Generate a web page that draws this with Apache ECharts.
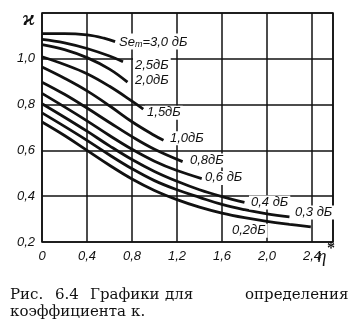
<!DOCTYPE html>
<html><head><meta charset="utf-8">
<script src="https://cdn.jsdelivr.net/npm/echarts@6/dist/echarts.min.js"></script>
<style>html,body{margin:0;padding:0;background:#fff}#c{width:357px;height:323px}</style>
</head><body><div id="c"></div>
<script>
// Curves: [eta*, kappa]
const c30 = [[0,1.11],[0.2,1.11],[0.4,1.104],[0.55,1.09],[0.65,1.075]];
const c25 = [[0,1.085],[0.2,1.07],[0.4,1.045],[0.6,1.012],[0.72,0.987]];
const c20 = [[0,1.062],[0.2,1.04],[0.4,1.005],[0.6,0.955],[0.76,0.898]];
const c15 = [[0,1.009],[0.2,0.975],[0.4,0.935],[0.6,0.88],[0.8,0.815],[0.9,0.78]];
const c10 = [[0,0.964],[0.2,0.915],[0.4,0.86],[0.6,0.795],[0.8,0.725],[1.0,0.665],[1.08,0.644]];
const c08 = [[0,0.898],[0.2,0.845],[0.4,0.785],[0.6,0.722],[0.8,0.66],[1.0,0.605],[1.25,0.551]];
const c06 = [[0,0.849],[0.2,0.79],[0.4,0.729],[0.6,0.665],[0.8,0.605],[1.0,0.553],[1.2,0.512],[1.42,0.477]];
const c04 = [[0,0.804],[0.2,0.745],[0.4,0.684],[0.6,0.62],[0.8,0.56],[1.0,0.508],[1.2,0.465],[1.4,0.428],[1.6,0.398],[1.8,0.373]];
const c03 = [[0,0.764],[0.2,0.705],[0.4,0.644],[0.6,0.58],[0.8,0.52],[1.0,0.468],[1.2,0.428],[1.4,0.395],[1.6,0.364],[1.8,0.341],[2.0,0.323],[2.2,0.31]];
const c02 = [[0,0.724],[0.2,0.665],[0.4,0.60],[0.6,0.535],[0.8,0.475],[1.0,0.425],[1.2,0.385],[1.4,0.352],[1.6,0.326],[1.8,0.306],[2.0,0.29],[2.2,0.277],[2.39,0.266]];
const curves = [c30,c25,c20,c15,c10,c08,c06,c04,c03,c02];
// Curve labels: text and anchor (data coords, left/middle)
const labelTexts = ['{i|Se}{s|m}{i|=3,0 дБ}','2,5дБ','2,0дБ','1,5дБ','1,0дБ','0,8дБ','0,6 дБ','0,4 дБ','0,3 дБ','0,2дБ'];
const labelAnchors = [[0.667,1.076],[0.809,0.973],[0.809,0.907],[0.916,0.764],[1.12,0.653],[1.298,0.556],[1.431,0.48],[1.84,0.373],[2.231,0.329],[1.671,0.249]];
const xMin = 0, xMax = 2.587, xStep = 0.4;
const yMin = 0.2, yMax = 1.2, yStep = 0.2;
const yLabelMax = 1.0;
const captionWords1 = ['Рис.','6.4','Графики','для','определения'];
const captionWords2 = ['коэффициента','κ.'];

const ff = "'Liberation Sans Narrow','Liberation Sans',Arial,sans-serif";
const sf = "'DejaVu Serif','Liberation Serif',serif";
const comma = v => { const r = Math.round(v*10)/10; return r === 0 ? '0' : r.toFixed(1).replace('.', ','); };
const chart = echarts.init(document.getElementById('c'), null, {renderer:'canvas'});
const option = {
  animation:false,
  backgroundColor:'#fff',
  grid:{left:42, top:13, width:291, height:229, show:true, borderColor:'#111', borderWidth:1.6, backgroundColor:'transparent'},
  xAxis:{type:'value', min:xMin, max:xMax, interval:xStep,
    axisLine:{show:false}, axisTick:{show:false},
    splitLine:{show:true, lineStyle:{color:'#111', width:1.5}},
    axisLabel:{showMaxLabel:false, margin:8, color:'#111', fontFamily:ff, fontStyle:'italic', fontSize:13, formatter:comma}
  },
  yAxis:{type:'value', min:yMin, max:yMax, interval:yStep,
    axisLine:{show:false}, axisTick:{show:false},
    splitLine:{show:true, lineStyle:{color:'#111', width:1.5}},
    axisLabel:{margin:7, color:'#111', fontFamily:ff, fontStyle:'italic', fontSize:13,
      formatter: v => v > yLabelMax + 1e-9 ? '' : comma(v)}
  },
  series: curves.map(d => ({type:'line', data:d, smooth:0.4, showSymbol:false, lineStyle:{color:'#111', width:2.8}, z:3}))
};
chart.setOption(option);
const txtStyle = {fill:'#111', fontFamily:ff, fontStyle:'italic', fontSize:13, backgroundColor:'#fff', padding:[1,2,0,2], verticalAlign:'middle', align:'left'};
const graphics = labelAnchors.map((a,i) => {
  const p = chart.convertToPixel({gridIndex:0}, a);
  const st = Object.assign({}, txtStyle, {text:labelTexts[i], x:p[0], y:p[1]});
  if (i === 0) st.rich = {i:{fontFamily:ff, fontStyle:'italic', fontSize:13, fill:'#111'}, s:{fontFamily:ff, fontStyle:'italic', fontSize:9, fill:'#111', verticalAlign:'bottom', padding:[6,0,0,0]}};
  return {type:'text', z:10, style:st};
});
// axis names
graphics.push({type:'text', style:{text:'ϰ', x:29, y:19, fill:'#111', fontSize:22, fontStyle:'italic', fontWeight:'bold', fontFamily:"'Liberation Serif',serif", align:'center', verticalAlign:'middle'}});
graphics.push({type:'text', style:{text:'η', x:322, y:257, fill:'#111', fontSize:18, fontStyle:'italic', fontFamily:"'Liberation Serif',serif", align:'center', verticalAlign:'middle'}});
graphics.push({type:'text', style:{text:'*', x:331, y:249, fill:'#111', fontSize:16, fontWeight:'bold', fontFamily:"'Liberation Serif',serif", align:'center', verticalAlign:'middle'}});
// caption words
const cap1X = [10, 55, 90, 165, 245];
const cap2X = [10, 131];
captionWords1.forEach((w,i) => graphics.push({type:'text', style:{text:w, x:cap1X[i], y:295, fill:'#111', fontSize:15, fontFamily:sf, verticalAlign:'middle'}}));
captionWords2.forEach((w,i) => graphics.push({type:'text', style:{text:w, x:cap2X[i], y:312, fill:'#111', fontSize:15, fontFamily:sf, verticalAlign:'middle'}}));
chart.setOption({graphic:graphics});
</script></body></html>
